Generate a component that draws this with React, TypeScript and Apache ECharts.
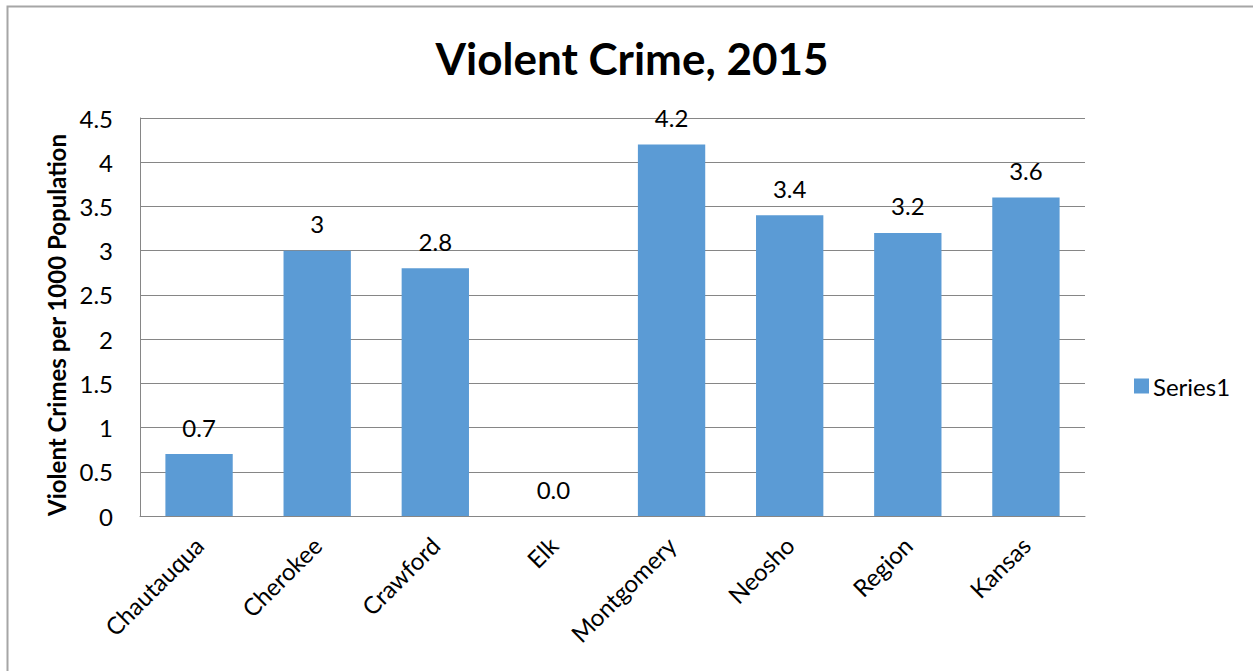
import React, { useEffect, useRef } from "react";
import * as echarts from "echarts";

const categories = ["Chautauqua", "Cherokee", "Crawford", "Elk", "Montgomery", "Neosho", "Region", "Kansas"];
const values = [0.7, 3, 2.8, 0, 4.2, 3.4, 3.2, 3.6];
const seriesName = "Series1";
const titleText = "Violent Crime, 2015";
const yAxisName = "Violent Crimes per 1000 Population";

const FONT = "Lato, 'Open Sans', sans-serif";

export default function App() {
  const ref = useRef<HTMLDivElement>(null);
  useEffect(() => {
    if (!ref.current) return;
    const chart = echarts.init(ref.current, undefined, { renderer: "svg" });
    chart.setOption({
      animation: false,
      backgroundColor: "#ffffff",
      title: {
        text: titleText,
        left: 627,
        textAlign: "center",
        top: 31,
        textStyle: { fontFamily: FONT, fontWeight: "bold", fontSize: 44, color: "#000" },
      },
      graphic: [
        {
          type: "rect",
          shape: { x: 7.5, y: 6.5, width: 1300, height: 700 },
          style: { fill: "none", stroke: "#a6a6a6", lineWidth: 2 },
          silent: true,
          z: -10,
        },
      ],
      legend: {
        left: 1129,
        top: 369,
        itemWidth: 15,
        itemHeight: 15,
        itemGap: 6,
        icon: "rect",
        textStyle: { fontFamily: FONT, fontSize: 24, color: "#000", padding: [0, 0, 0, -1] },
        data: [seriesName],
      },
      grid: { left: 140, top: 118, right: 168, bottom: 155 },
      xAxis: {
        type: "category",
        data: categories,
        axisLine: { lineStyle: { color: "#868686", width: 1 } },
        axisTick: { show: false },
        axisLabel: {
          rotate: 45,
          margin: 25,
          fontFamily: FONT,
          fontSize: 24,
          color: "#000",
          interval: 0,
        },
      },
      yAxis: {
        type: "value",
        min: 0,
        max: 4.5,
        interval: 0.5,
        name: yAxisName,
        nameLocation: "middle",
        nameGap: 68,
        nameTextStyle: {
          fontFamily: FONT,
          fontWeight: "bold",
          fontSize: 24,
          color: "#000",
          padding: [0, 16, 0, 0],
        },
        axisLine: { show: true, lineStyle: { color: "#868686" } },
        axisTick: { show: false },
        splitLine: { lineStyle: { color: "#868686", width: 1 } },
        axisLabel: {
          margin: 27,
          fontFamily: FONT,
          fontSize: 24,
          color: "#000",
        },
      },
      series: [
        {
          name: seriesName,
          type: "bar",
          data: values,
          barWidth: "57%",
          itemStyle: { color: "#5B9BD5" },
          label: {
            show: true,
            position: "top",
            distance: 15,
            fontFamily: FONT,
            fontSize: 24,
            color: "#000",
            formatter: (p: any) => (p.value === 0 ? "0.0" : String(p.value)),
          },
        },
      ],
    });
    return () => chart.dispose();
  }, []);
  return (
    <div
      ref={ref}
      style={{ position: "absolute", left: 0, top: 0, width: 1253, height: 671 }}
    />
  );
}
